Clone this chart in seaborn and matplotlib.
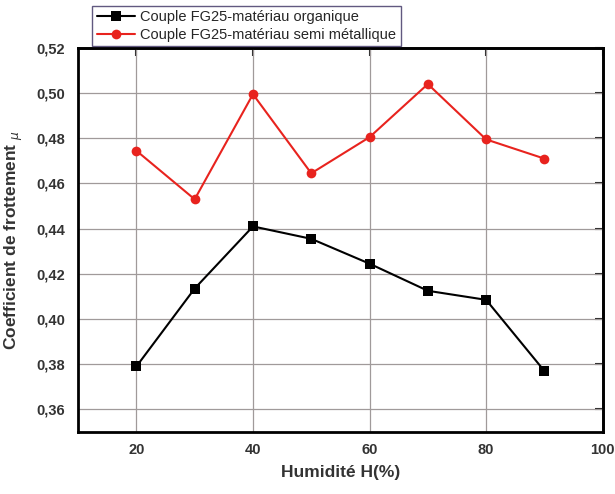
import pandas as pd
import seaborn as sns
import matplotlib
matplotlib.use("Agg")
from matplotlib import pyplot as plt
from matplotlib.ticker import FuncFormatter, MultipleLocator, NullLocator

humidite = [20, 30, 40, 50, 60, 70, 80, 90]
organique = [0.379, 0.4135, 0.441, 0.4355, 0.4245, 0.4125, 0.4085, 0.377]
semi_metal = [0.4745, 0.453, 0.4995, 0.4645, 0.4805, 0.504, 0.4795, 0.471]
serie_org = "Couple FG25-matériau organique"
serie_semi = "Couple FG25-matériau semi métallique"

df = pd.DataFrame({
    "H": humidite * 2,
    "mu": organique + semi_metal,
    "serie": [serie_org] * len(humidite) + [serie_semi] * len(humidite),
})

sns.set_style("white")
plt.rcParams["font.family"] = ["Liberation Sans", "DejaVu Sans"]

fig = plt.figure(figsize=(6.15, 4.94), dpi=100)
ax = fig.add_axes([0.127, 0.1255, 0.853, 0.7775])

ax.grid(True, color="#a09a9a", linewidth=0.9)
ax.set_axisbelow(True)

sns.lineplot(data=df, x="H", y="mu", hue="serie", style="serie",
             palette={serie_org: "black", serie_semi: "#e8231e"},
             markers={serie_org: "s", serie_semi: "o"}, dashes=False,
             markersize=7, linewidth=1.5, markeredgewidth=0, ax=ax)

ax.set_xlim(10, 100)
ax.set_ylim(0.35, 0.52)
ax.xaxis.set_major_locator(MultipleLocator(20))
ax.xaxis.set_minor_locator(MultipleLocator(10))
ax.yaxis.set_major_locator(MultipleLocator(0.02))
ax.yaxis.set_minor_locator(MultipleLocator(0.01))
ax.yaxis.set_major_formatter(FuncFormatter(lambda v, p: f"{v:.2f}".replace(".", ",")))

for s in ax.spines.values():
    s.set_linewidth(2)
    s.set_color("black")

ax.tick_params(axis="x", which="both", direction="in", width=1.5)
ax.tick_params(axis="x", which="major", length=6, labelsize=10.5, pad=8)
ax.tick_params(axis="x", which="minor", length=4)
ax.tick_params(axis="y", which="both", direction="out", width=1.5)
ax.tick_params(axis="y", which="major", length=6, labelsize=10.5)
ax.tick_params(axis="y", which="minor", length=3)
for lab in ax.get_xticklabels() + ax.get_yticklabels():
    lab.set_fontweight("bold")
    lab.set_color("#333333")

# inward major ticks on the top and right spines
top = ax.secondary_xaxis("top")
top.xaxis.set_major_locator(MultipleLocator(20))
top.xaxis.set_minor_locator(NullLocator())
top.tick_params(direction="in", length=6, width=1.5, labeltop=False)
right = ax.secondary_yaxis("right")
right.yaxis.set_major_locator(MultipleLocator(0.02))
right.yaxis.set_minor_locator(NullLocator())
right.tick_params(direction="in", length=6, width=1.5, labelright=False)
for sec in (top, right):
    for s in sec.spines.values():
        s.set_linewidth(2)

ax.set_xlabel("Humidité H(%)", fontsize=12.5, fontweight="bold", color="#333333", labelpad=6)
ax.set_ylabel(r"Coefficient de frottement $_{\mu}$", fontsize=12.5, fontweight="bold",
              color="#333333", labelpad=8)

leg = ax.legend(loc="lower left", bbox_to_anchor=(0.027, 1.005), fontsize=10.5,
                frameon=True, fancybox=False, handlelength=2.6, borderpad=0.3,
                labelspacing=0.25, handletextpad=0.4, borderaxespad=0)
leg.get_frame().set_edgecolor("#3a3060")
leg.get_frame().set_linewidth(1)

fig.savefig("out.png", dpi=100)
